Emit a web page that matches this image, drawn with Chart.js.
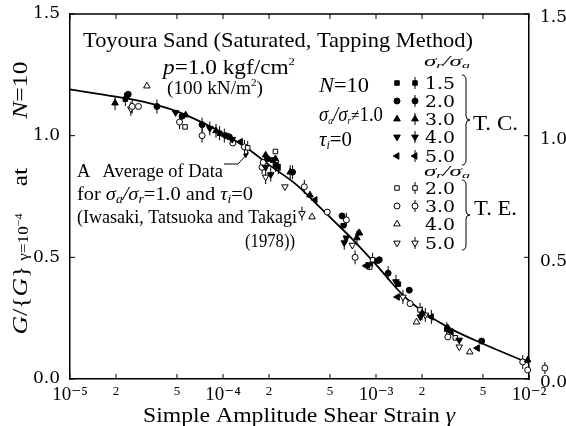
<!DOCTYPE html>
<html>
<head>
<meta charset="utf-8">
<script src="https://cdn.jsdelivr.net/npm/chart.js@4.4.0/dist/chart.umd.min.js"></script>
<style>
html, body { margin: 0; padding: 0; background: #fff; }
</style>
</head>
<body>
<canvas id="chart" width="566" height="426"></canvas>
<script>
const SERIF = '"Liberation Serif", "DejaVu Serif", serif';
const DIGITS = '"DejaVu Serif", "Liberation Serif", serif';

// axis ticks
const strainTicks = [1e-5, 2e-5, 5e-5, 1e-4, 2e-4, 5e-4, 1e-3, 2e-3, 5e-3, 1e-2];
const ratioTicks = [0, 0.5, 1.0, 1.5];

// average curve for sa/sr = 1.0 (Iwasaki, Tatsuoka and Takagi 1978)
const curveStrain = [1e-5, 2e-5, 3e-5, 5e-5, 7e-5, 1e-4, 1.5e-4, 2e-4, 3e-4, 4e-4, 5e-4, 7e-4, 1e-3, 1.5e-3, 2e-3, 3e-3, 5e-3, 1e-2];
const curveRatio = [1.19, 1.16, 1.14, 1.10, 1.06, 1.01, 0.94, 0.88, 0.80, 0.725, 0.665, 0.575, 0.47, 0.345, 0.28, 0.21, 0.145, 0.065];

// T.C. data  [strain, G/G(1e-4)] ; *Bar = points drawn with a scatter bar
const tc15 = [[2.35e-5, 1.165], [1.05e-4, 1.0], [2.1e-4, 0.9], [6.1e-4, 0.63], [1.02e-3, 0.485], [1.4e-3, 0.39]];
const tc15Bar = [[2.3e-5, 1.15], [9.5e-5, 1.01], [2.2e-4, 0.88], [2.9e-3, 0.205]];
const tc20 = [[2.4e-5, 1.17], [5.4e-5, 1.08], [1.1e-4, 0.995], [1.95e-4, 0.905], [6.0e-4, 0.67], [1.05e-3, 0.49], [1.65e-3, 0.365], [4.9e-3, 0.156]];
const tc20Bar = [[3.7e-5, 1.12], [7.3e-5, 1.045], [2.85e-4, 0.85], [1.2e-3, 0.435]];
const tc30 = [[5.7e-5, 1.085], [1.9e-4, 0.92], [2.2e-4, 0.905], [3.7e-4, 0.756], [7.8e-4, 0.6], [2.95e-3, 0.21], [9.8e-3, 0.078]];
const tc30Bar = [[1.97e-5, 1.134], [9.0e-5, 1.02], [2.75e-4, 0.85], [7.5e-4, 0.58], [2.0e-3, 0.27]];
const tc40 = [[4.9e-5, 1.095], [1.15e-4, 0.985], [1.9e-4, 0.87], [6.4e-4, 0.58], [9.0e-4, 0.47], [1.95e-3, 0.255], [3.5e-3, 0.16]];
const tc40Bar = [[8.2e-5, 1.03], [2.05e-4, 0.84], [6.2e-4, 0.56], [1.35e-3, 0.4]];
const tc50 = [[1.3e-4, 0.975], [4.0e-4, 0.736], [8.6e-4, 0.465], [1.38e-3, 0.337], [3.1e-3, 0.193], [4.6e-3, 0.127]];
const tc50Bar = [[1.02e-4, 1.0], [2.3e-4, 0.87], [2.3e-3, 0.255]];

// T.E. data
const te20 = [[5.65e-5, 1.036], [2.2e-4, 0.935], [9.1e-4, 0.46], [3.3e-3, 0.169]];
const te20Bar = [[1.45e-4, 0.95], [9.5e-4, 0.49], [1.94e-3, 0.284]];
const te30 = [[2.8e-5, 1.12], [1.16e-4, 0.97], [1.83e-4, 0.89], [4.8e-4, 0.686], [1.67e-3, 0.31], [2.95e-3, 0.173], [9.8e-3, 0.037]];
const te30Bar = [[2.55e-5, 1.12], [5.2e-5, 1.056], [7.3e-5, 1.0], [1.38e-4, 0.954], [1.8e-4, 0.87], [3.4e-4, 0.79], [6.4e-4, 0.654], [7.3e-4, 0.5], [9.1e-3, 0.07]];
const te30BarOutside = [[1.27e-2, 0.045]];   // plotted just past the right axis
const te40 = [[3.18e-5, 1.204], [3.82e-4, 0.666], [7.7e-4, 0.6], [1.84e-3, 0.234], [4.1e-3, 0.111]];
const te50 = [[2.54e-4, 0.79], [7.0e-4, 0.55], [3.5e-3, 0.132]];
const te50Bar = [[2.5e-5, 1.11], [1.9e-4, 0.83], [3.28e-4, 0.68], [1.5e-3, 0.337], [2.1e-3, 0.263]];

const styles = {
    square: { pointStyle: 'rect', rotation: 0, radius: 3.2 },
    circle: { pointStyle: 'circle', rotation: 0, radius: 3 },
    up: { pointStyle: 'triangle', rotation: 0, radius: 3.8 },
    down: { pointStyle: 'triangle', rotation: 180, radius: 3.8 },
    left: { pointStyle: 'triangle', rotation: 270, radius: 3.8 },
};

function toXY(pairs) {
    return pairs.map(p => ({ x: p[0], y: p[1] }));
}

function markerSet(pairs, st, filled) {
    return {
        data: toXY(pairs),
        pointStyle: st.pointStyle,
        rotation: st.rotation,
        pointRadius: st.radius,
        backgroundColor: filled ? '#000' : '#fff',
        borderColor: '#000',
        borderWidth: 1,
        order: 1,
        clip: false,
    };
}

function barSet(pairs) {
    return {
        data: toXY(pairs),
        pointStyle: 'line',
        rotation: 90,
        pointRadius: 7,
        borderColor: '#000',
        borderWidth: 1,
        order: 2,
        clip: false,
    };
}

const groups = [
    [tc15, tc15Bar, styles.square, true],
    [tc20, tc20Bar, styles.circle, true],
    [tc30, tc30Bar, styles.up, true],
    [tc40, tc40Bar, styles.down, true],
    [tc50, tc50Bar, styles.left, true],
    [te20, te20Bar, styles.square, false],
    [te30, te30Bar, styles.circle, false],
    [te40, [], styles.up, false],
    [te50, te50Bar, styles.down, false],
];

const datasets = [{
    type: 'line',
    data: curveStrain.map((s, i) => ({ x: s, y: curveRatio[i] })),
    borderColor: '#000',
    borderWidth: 1.8,
    pointRadius: 0,
    cubicInterpolationMode: 'monotone',
    fill: false,
    order: 3,
}];
groups.forEach(g => {
    datasets.push(markerSet(g[0], g[2], g[3]));
    if (g[1].length) {
        datasets.push(markerSet(g[1], g[2], g[3]));
        datasets.push(barSet(g[1]));
    }
});

// draws a run of text pieces; if w is given the run is stretched to that width
function drawRuns(ctx, x, y, runs, align, w) {
    let total = 0;
    runs.forEach(r => {
        ctx.font = (r.it ? 'italic ' : '') + r.s + 'px ' + (r.f || SERIF);
        r.w = ctx.measureText(r.t).width + (r.gap || 0);
        total += r.w;
    });
    const k = w ? w / total : 1;
    const full = total * k;
    const x0 = align === 'center' ? x - full / 2 : align === 'right' ? x - full : x;
    ctx.save();
    ctx.translate(x0, y);
    ctx.scale(k, 1);
    let cx = 0;
    runs.forEach(r => {
        ctx.font = (r.it ? 'italic ' : '') + r.s + 'px ' + (r.f || SERIF);
        ctx.fillText(r.t, cx, r.dy || 0);
        cx += r.w;
    });
    ctx.restore();
}

function drawMarker(ctx, st, filled, x, y, bar) {
    ctx.fillStyle = filled ? '#000' : '#fff';
    ctx.strokeStyle = '#000';
    ctx.lineWidth = 1;
    if (bar) {
        ctx.beginPath();
        ctx.moveTo(x, y - 6);
        ctx.lineTo(x, y + 6);
        ctx.stroke();
    }
    Chart.helpers.drawPoint(ctx, { pointStyle: st.pointStyle, rotation: st.rotation, radius: st.radius, borderWidth: 1 }, x, y);
    ctx.fillStyle = '#000';
}

const frameTicks = {
    id: 'frameTicks',
    afterDatasetsDraw(chart) {
        const { ctx, chartArea: a, scales } = chart;
        ctx.save();
        ctx.strokeStyle = '#000';
        ctx.lineWidth = 1.5;
        ctx.beginPath();
        ctx.moveTo(a.left, a.top);
        ctx.lineTo(a.right, a.top);
        ctx.stroke();
        ctx.lineWidth = 1;
        ctx.beginPath();
        strainTicks.forEach(v => {
            const px = scales.x.getPixelForValue(v);
            ctx.moveTo(px, a.bottom);
            ctx.lineTo(px, a.bottom - 5);
            ctx.moveTo(px, a.top);
            ctx.lineTo(px, a.top + 5);
        });
        ratioTicks.forEach(v => {
            const py = scales.y.getPixelForValue(v);
            ctx.moveTo(a.left, py);
            ctx.lineTo(a.left + 5, py);
            ctx.moveTo(a.right, py);
            ctx.lineTo(a.right - 5, py);
        });
        ctx.stroke();
        // point lying outside the right axis (Chart.js skips it)
        te30BarOutside.forEach(p => {
            drawMarker(ctx, styles.circle, false, scales.x.getPixelForValue(p[0]), scales.y.getPixelForValue(p[1]), true);
        });
        ctx.restore();
    }
};

const annotations = {
    id: 'annotations',
    afterDraw(chart) {
        const { ctx, scales } = chart;
        ctx.save();
        ctx.fillStyle = '#000';
        ctx.textBaseline = 'alphabetic';
        const S = 19;

        drawRuns(ctx, 83, 47, [{ t: 'Toyoura Sand (Saturated, Tapping Method)', s: 22 }], 'left', 390);
        drawRuns(ctx, 163, 74, [{ t: 'p', s: 20, it: true }, { t: '=1.0 kgf/cm', s: 20 }, { t: '2', s: 11, dy: -9 }], 'left', 132);
        drawRuns(ctx, 167, 94, [{ t: '(100 kN/m', s: S }, { t: '2', s: 11, dy: -8 }, { t: ')', s: S }], 'left', 96);
        drawRuns(ctx, 319, 92, [{ t: 'N', s: 21, it: true }, { t: '=10', s: 21 }], 'left', 50);
        drawRuns(ctx, 319, 121, [{ t: 'σ', s: 22, it: true }, { t: 'a', s: 11, it: true, dy: 3 }, { t: '/σ', s: 22, it: true },
            { t: 'r', s: 11, it: true, dy: 3 }, { t: '≠', s: 18 }, { t: '1.0', s: 22 }], 'left', 64);
        drawRuns(ctx, 319, 146, [{ t: 'τ', s: 21, it: true }, { t: 'i', s: 12, it: true, dy: 3 }, { t: '=0', s: 21 }], 'left', 33);

        drawRuns(ctx, 77, 177, [{ t: 'A', s: 18, gap: 12 }, { t: 'Average of Data', s: 18 }], 'left', 146);
        drawRuns(ctx, 77, 200, [{ t: 'for ', s: 18 }, { t: 'σ', s: 18, it: true }, { t: 'a', s: 12, it: true, dy: 3 },
            { t: '/σ', s: 18, it: true }, { t: 'r', s: 12, it: true, dy: 3 }, { t: '=1.0 and ', s: 18 },
            { t: 'τ', s: 18, it: true }, { t: 'i', s: 12, it: true, dy: 3 }, { t: '=0', s: 18 }], 'left', 176);
        drawRuns(ctx, 77, 223, [{ t: '(Iwasaki, Tatsuoka and Takagi', s: 18 }], 'left', 220);
        drawRuns(ctx, 295, 247, [{ t: '(1978))', s: 18 }], 'right', 50);

        // leader from "Average of Data" to the curve
        const tx = scales.x.getPixelForValue(1.5e-4);
        const ty = scales.y.getPixelForValue(0.94);
        ctx.strokeStyle = '#000';
        ctx.lineWidth = 1;
        ctx.beginPath();
        ctx.moveTo(224, 164);
        ctx.lineTo(238, 164);
        ctx.lineTo(tx - 2, ty + 3);
        ctx.stroke();
        ctx.beginPath();
        ctx.moveTo(tx - 1, ty + 2);
        ctx.lineTo(tx - 7, ty + 4);
        ctx.lineTo(tx - 4, ty + 8);
        ctx.closePath();
        ctx.fill();

        // legend
        const head = (y) => drawRuns(ctx, 424, y, [{ t: 'σ', s: 14, it: true }, { t: 'r', s: 9, it: true, dy: 2 },
            { t: '/σ', s: 14, it: true }, { t: 'a', s: 9, it: true, dy: 2 }], 'left', 46);
        head(66);
        const tcRows = [['1.5', styles.square, 83], ['2.0', styles.circle, 101], ['3.0', styles.up, 119],
            ['4.0', styles.down, 137], ['5.0', styles.left, 156]];
        tcRows.forEach(r => {
            drawMarker(ctx, r[1], true, 397, r[2], false);
            drawMarker(ctx, r[1], true, 415, r[2], true);
            drawRuns(ctx, 425, r[2] + 6, [{ t: r[0], s: 17, f: DIGITS }], 'left', 30);
        });
        head(176);
        const teRows = [['2.0', styles.square, 188, true], ['3.0', styles.circle, 206, true],
            ['4.0', styles.up, 224, false], ['5.0', styles.down, 243, true]];
        teRows.forEach(r => {
            drawMarker(ctx, r[1], false, 397, r[2], false);
            if (r[3]) drawMarker(ctx, r[1], false, 415, r[2], true);
            drawRuns(ctx, 425, r[2] + 6, [{ t: r[0], s: 17, f: DIGITS }], 'left', 30);
        });
        // braces
        const brace = (x, y0, y1) => {
            const ym = (y0 + y1) / 2;
            ctx.beginPath();
            ctx.moveTo(x, y0);
            ctx.quadraticCurveTo(x + 4, y0, x + 4, y0 + 5);
            ctx.lineTo(x + 4, ym - 4);
            ctx.quadraticCurveTo(x + 4, ym, x + 8, ym);
            ctx.quadraticCurveTo(x + 4, ym, x + 4, ym + 4);
            ctx.lineTo(x + 4, y1 - 5);
            ctx.quadraticCurveTo(x + 4, y1, x, y1);
            ctx.stroke();
        };
        ctx.strokeStyle = '#000';
        ctx.lineWidth = 1;
        brace(462, 75, 165);
        brace(462, 180, 250);
        drawRuns(ctx, 473, 130, [{ t: 'T. C.', s: 20 }], 'left', 45);
        drawRuns(ctx, 474, 215, [{ t: 'T. E.', s: 20 }], 'left', 43);

        // x axis title
        drawRuns(ctx, 299, 422, [{ t: 'Simple Amplitude Shear Strain ', s: 21 }, { t: 'γ', s: 21, it: true }], 'center', 312);

        // y axis title
        ctx.save();
        ctx.translate(27, 198);
        ctx.rotate(-Math.PI / 2);
        drawRuns(ctx, 0, 0, [{ t: 'G', s: 21, it: true }, { t: '/{', s: 21 }, { t: 'G', s: 21, it: true }, { t: '}', s: 21, gap: 4 },
            { t: 'γ=10', s: 14, dy: 1 }, { t: '−4', s: 10, dy: -5, gap: 22 }, { t: 'at', s: 21, gap: 40 },
            { t: 'N', s: 21, it: true }, { t: '=10', s: 21 }], 'center', 273);
        ctx.restore();

        ctx.restore();
    }
};

const isDecade = v => Math.abs(Math.log10(v) - Math.round(Math.log10(v))) < 1e-6;
const sup = { '-': '⁻', '0': '⁰', '1': '¹', '2': '²', '3': '³', '4': '⁴', '5': '⁵' };

new Chart(document.getElementById('chart'), {
    type: 'scatter',
    data: { datasets: datasets },
    options: {
        responsive: false,
        animation: false,
        events: [],
        layout: { padding: { top: 14, left: 0, right: 0, bottom: 0 } },
        plugins: { legend: { display: false }, tooltip: { enabled: false } },
        scales: {
            x: {
                type: 'logarithmic',
                min: 1e-5,
                max: 1e-2,
                afterBuildTicks: s => { s.ticks = strainTicks.map(v => ({ value: v })); },
                afterFit: s => { s.height = 47; },
                grid: { display: false },
                border: { display: true, color: '#000', width: 1.5 },
                ticks: {
                    color: '#000',
                    padding: -3,
                    maxRotation: 0,
                    autoSkip: false,
                    font: c => ({ family: SERIF, size: c.tick && isDecade(c.tick.value) ? 19 : 13 }),
                    callback: v => {
                        if (isDecade(v)) {
                            const e = String(Math.round(Math.log10(v)));
                            return '10' + e.split('').map(ch => sup[ch]).join('');
                        }
                        return String(Math.round(v / Math.pow(10, Math.floor(Math.log10(v)))));
                    }
                },
                title: { display: false }
            },
            y: {
                position: 'left',
                min: 0,
                max: 1.5,
                afterBuildTicks: s => { s.ticks = ratioTicks.map(v => ({ value: v })); },
                afterFit: s => { s.width = 70; },
                grid: { display: false },
                border: { display: true, color: '#000', width: 1.5 },
                ticks: {
                    color: '#000',
                    padding: 2,
                    font: { family: DIGITS, size: 17 },
                    callback: v => v.toFixed(1)
                }
            },
            y2: {
                position: 'right',
                min: 0,
                max: 1.5,
                afterBuildTicks: s => { s.ticks = ratioTicks.map(v => ({ value: v })); },
                afterFit: s => { s.width = 37; },
                grid: { display: false },
                border: { display: true, color: '#000', width: 1.5 },
                ticks: {
                    color: '#000',
                    padding: 3,
                    labelOffset: 4,
                    font: { family: DIGITS, size: 17 },
                    callback: v => v.toFixed(1)
                }
            }
        }
    },
    plugins: [frameTicks, annotations]
});
</script>
</body>
</html>
